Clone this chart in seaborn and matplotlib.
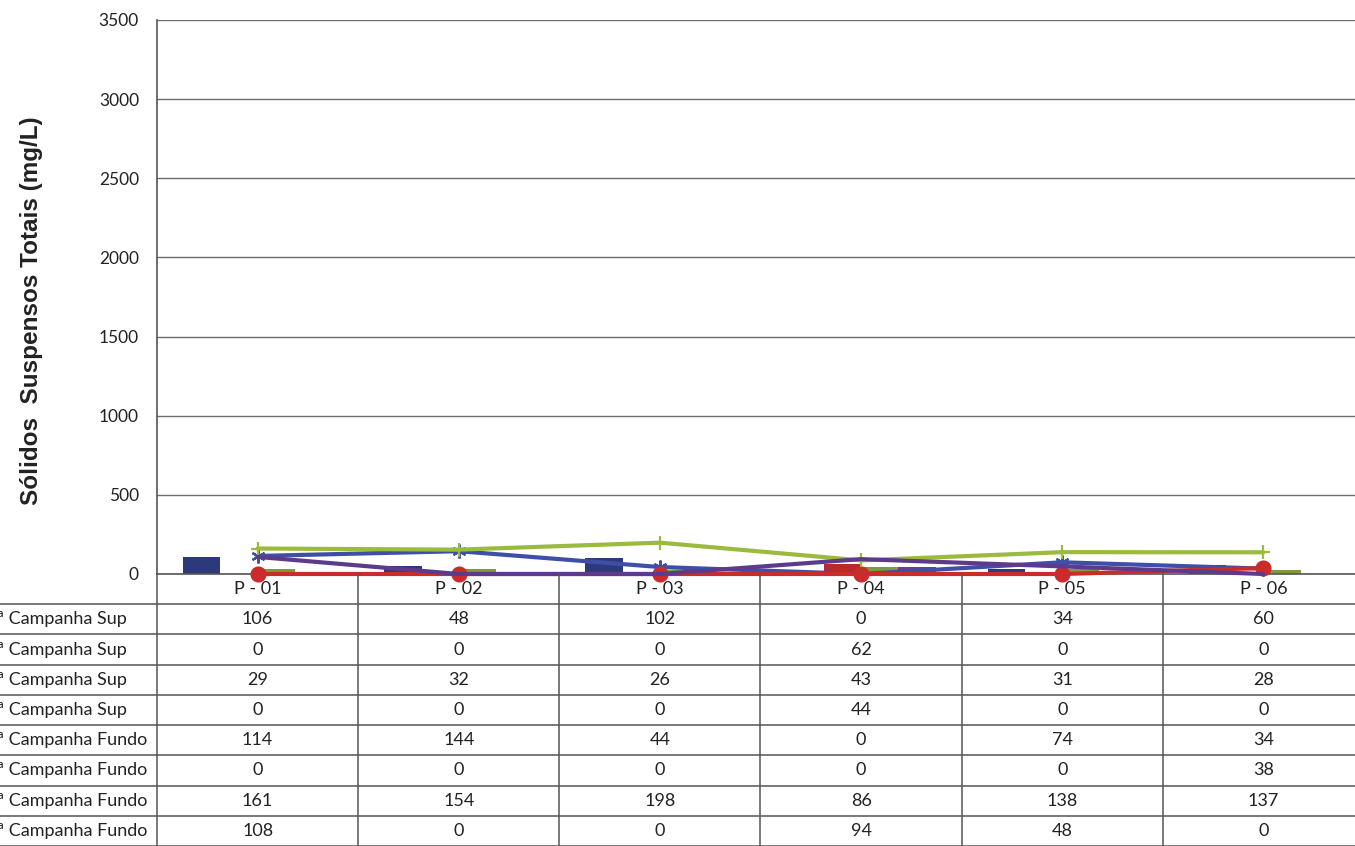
import numpy as np
import pandas as pd
import matplotlib
matplotlib.use("Agg")
import matplotlib.pyplot as plt
import seaborn as sns

pontos = ["P - 01", "P - 02", "P - 03", "P - 04", "P - 05", "P - 06"]

series_sup = ["1ª Campanha Sup", "2ª Campanha Sup", "3ª Campanha Sup", "4ª Campanha Sup"]
sup_1 = [106, 48, 102, 0, 34, 60]
sup_2 = [0, 0, 0, 62, 0, 0]
sup_3 = [29, 32, 26, 43, 31, 28]
sup_4 = [0, 0, 0, 44, 0, 0]

series_fundo = ["1ª Campanha Fundo", "2ª Campanha Fundo", "3ª Campanha Fundo", "4ª Campanha Fundo"]
fundo_1 = [114, 144, 44, 0, 74, 34]
fundo_2 = [0, 0, 0, 0, 0, 38]
fundo_3 = [161, 154, 198, 86, 138, 137]
fundo_4 = [108, 0, 0, 94, 48, 0]

sup_vals = [sup_1, sup_2, sup_3, sup_4]
fundo_vals = [fundo_1, fundo_2, fundo_3, fundo_4]

sup_colors = ["#2c3a7c", "#b82a2a", "#7f9a3c", "#6a3f8e"]
fundo_colors = ["#3f4fa8", "#cc2b2b", "#9bbb3f", "#5e3a8c"]
fundo_markers = [(6, 2, 0), "o", "+", None]

# long table for the bars
df_sup = pd.DataFrame({
    "ponto": np.tile(pontos, len(series_sup)),
    "serie": np.repeat(series_sup, len(pontos)),
    "valor": np.concatenate(sup_vals),
})

sns.set_style("white")
plt.rcParams["font.family"] = ["Lato", "DejaVu Sans"]

W, H = 1355, 846
fig = plt.figure(figsize=(W / 100, H / 100), dpi=100)

# plot area in pixels (the chart is cut on the right like the scan)
left_px, right_px, top_px, zero_px = 157, 1364, 20, 574
ax = fig.add_axes([left_px / W, 1 - zero_px / H, (right_px - left_px) / W, (zero_px - top_px) / H])

sns.barplot(data=df_sup, x="ponto", y="valor", hue="serie", palette=sup_colors,
            width=0.74, saturation=1, linewidth=0, legend=False, ax=ax, zorder=2)

idx = np.arange(len(pontos))
for vals, col, mk in zip(fundo_vals, fundo_colors, fundo_markers):
    sns.lineplot(x=idx, y=vals, color=col, lw=3, marker=mk, markersize=10,
                 markeredgewidth=1.6, markeredgecolor=col, ax=ax, zorder=3, clip_on=False)

ax.set_xlim(-0.5, len(pontos) - 0.5)
ax.set_ylim(0, 3500)
ax.set_yticks(range(0, 3501, 500))
ax.set_xticks([])
ax.set_xlabel("")
ax.set_ylabel("")
ax.yaxis.grid(True, color="#6e6e6e", lw=1)
ax.set_axisbelow(True)
ax.tick_params(axis="y", length=0, pad=13, labelsize=12.5, colors="#222222")
for s in ["top", "right"]:
    ax.spines[s].set_visible(False)
for s in ["left", "bottom"]:
    ax.spines[s].set_color("#555555")
    ax.spines[s].set_linewidth(1.2)

fig.text(32 / W, 1 - 311 / H, "Sólidos  Suspensos Totais (mg/L)", rotation=90,
         ha="center", va="center", fontsize=17.5, fontweight="bold",
         family=["Liberation Sans", "DejaVu Sans"], color="#222222")

# data table under the plot
unit_px = (right_px - left_px) / len(pontos)
tab = fig.add_axes([0, 0, right_px / W, 1 - zero_px / H])
xmin = -0.5 - left_px / unit_px
tab.set_xlim(xmin, len(pontos) - 0.5)
nrows = 1 + len(series_sup) + len(series_fundo)
tab.set_ylim(nrows, 0)
tab.axis("off")

line_kw = dict(color="#555555", lw=1.1)
for r in range(1, nrows + 1):
    tab.plot([xmin, len(pontos) - 0.5], [r, r], **line_kw, clip_on=False)
for k in range(len(pontos) + 1):
    tab.plot([k - 0.5, k - 0.5], [0, nrows], **line_kw, clip_on=False)

for i, p in enumerate(pontos):
    tab.text(i, 0.5, p, ha="center", va="center", fontsize=13, color="#222222")

row_names = series_sup + series_fundo
row_vals = sup_vals + fundo_vals
for r, (name, vals) in enumerate(zip(row_names, row_vals), start=1):
    tab.text(xmin - 13 / unit_px, r + 0.5, name, ha="left", va="center",
             fontsize=13, color="#222222")
    for i, v in enumerate(vals):
        tab.text(i, r + 0.5, str(v), ha="center", va="center", fontsize=13, color="#222222")

fig.savefig("out.png", dpi=100)
